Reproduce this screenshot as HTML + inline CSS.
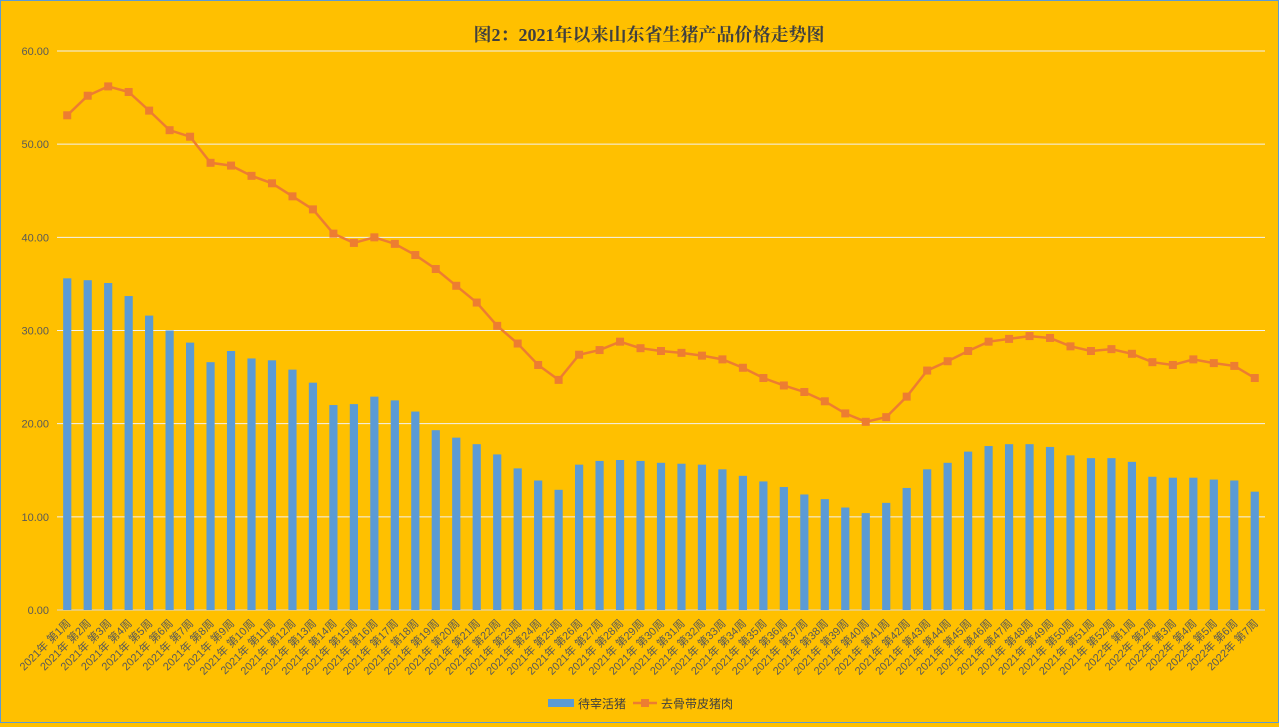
<!DOCTYPE html>
<html><head><meta charset="utf-8">
<style>
html,body{margin:0;padding:0;}
body{width:1279px;height:723px;overflow:hidden;background:#FFC000;font-family:"Liberation Sans","Noto Sans CJK SC",sans-serif;}
#wrap{position:absolute;left:0;top:0;width:1277px;height:721px;border:1px solid #5B9BD5;background:#FFC000;}
</style></head>
<body>
<div id="wrap">
<svg id="chart" width="1277" height="721">
<text x="648" y="40" text-anchor="middle" font-size="18" font-weight="bold" fill="#404040" font-family="Liberation Serif,'Noto Serif CJK SC',serif">图2：2021年以来山东省生猪产品价格走势图</text>
<g id="grid"></g><g id="bars"></g><g id="line"></g><g id="xlabels"></g><g id="ylabels"></g>
<g>
<rect x="547" y="698" width="26" height="8" fill="#5B9BD5"/>
<text x="577" y="707" font-size="12" fill="#404040">待宰活猪</text>
<line x1="632" y1="702" x2="656" y2="702" stroke="#ED7D31" stroke-width="2.5"/>
<rect x="640" y="698" width="8" height="8" fill="#ED7D31"/>
<text x="660" y="707" font-size="12" fill="#404040">去骨带皮猪肉</text>
</g>
</svg>
</div>
<script>
const categories = [];
for (let i=1;i<=52;i++) categories.push("2021年 第"+i+"周");
for (let i=1;i<=7;i++) categories.push("2022年 第"+i+"周");
const liveHog = [35.6,35.4,35.1,33.7,31.6,30.0,28.7,26.6,27.8,27.0,26.8,25.8,24.4,22.0,22.1,22.9,22.5,21.3,19.3,18.5,17.8,16.7,15.2,13.9,12.9,15.6,16.0,16.1,16.0,15.8,15.7,15.6,15.1,14.4,13.8,13.2,12.4,11.9,11.0,10.4,11.5,13.1,15.1,15.8,17.0,17.6,17.8,17.8,17.5,16.6,16.3,16.3,15.9,14.3,14.2,14.2,14.0,13.9,12.7];
const pork = [53.1,55.2,56.2,55.6,53.6,51.5,50.8,48.0,47.7,46.6,45.8,44.4,43.0,40.4,39.4,40.0,39.3,38.1,36.6,34.8,33.0,30.5,28.6,26.3,24.7,27.4,27.9,28.8,28.1,27.8,27.6,27.3,26.9,26.0,24.9,24.1,23.4,22.4,21.1,20.2,20.7,22.9,25.7,26.7,27.8,28.8,29.1,29.4,29.2,28.3,27.8,28.0,27.5,26.6,26.3,26.9,26.5,26.2,24.9];
const yTicks = [0,10,20,30,40,50,60];
const yTickLabels = ["0.00","10.00","20.00","30.00","40.00","50.00","60.00"];

const NS="http://www.w3.org/2000/svg";
const L=56, R=1264, T=50, B=609, yMax=60;
const band=(R-L)/categories.length;
const x=i=>L+band*(i+0.5);
const y=v=>B-(v/yMax)*(B-T);
function mk(tag,attrs,parent){const e=document.createElementNS(NS,tag);for(const k in attrs)e.setAttribute(k,attrs[k]);parent.appendChild(e);return e;}
const g=id=>document.getElementById(id);

yTicks.forEach((t,i)=>{
  const ln=mk('line',{x1:L,x2:R,y1:y(t),y2:y(t),stroke:i===0?'#D9D9D9':'#F2F2F2','stroke-width':1},g('grid'));
  
  
  const tx=mk('text',{x:L-8,y:y(t)+4,'text-anchor':'end','font-size':11,fill:'#595959'},g('ylabels'));
  tx.textContent=yTickLabels[i];
  
  
});
const bw=band*0.4;
liveHog.forEach((v,i)=>{
  const r=mk('rect',{x:x(i)-bw/2,y:y(v),width:bw,height:B-y(v),fill:'#5B9BD5'},g('bars'));
  
  
});
const pl=mk('polyline',{points:pork.map((v,i)=>x(i)+','+y(v)).join(' '),fill:'none',stroke:'#ED7D31','stroke-width':2.5},g('line'));


pork.forEach((v,i)=>{
  const m=mk('rect',{x:x(i)-4,y:y(v)-4,width:8,height:8,fill:'#ED7D31'},g('line'));
  
  
});
categories.forEach((c,i)=>{
  const t=mk('text',{x:x(i)+4,y:B+14,'text-anchor':'end','font-size':11,fill:'#595959',transform:'rotate(-45 '+(x(i)+4)+' '+(B+14)+')'},g('xlabels'));
  t.textContent=c;
  
  
});
</script>
</body></html>
